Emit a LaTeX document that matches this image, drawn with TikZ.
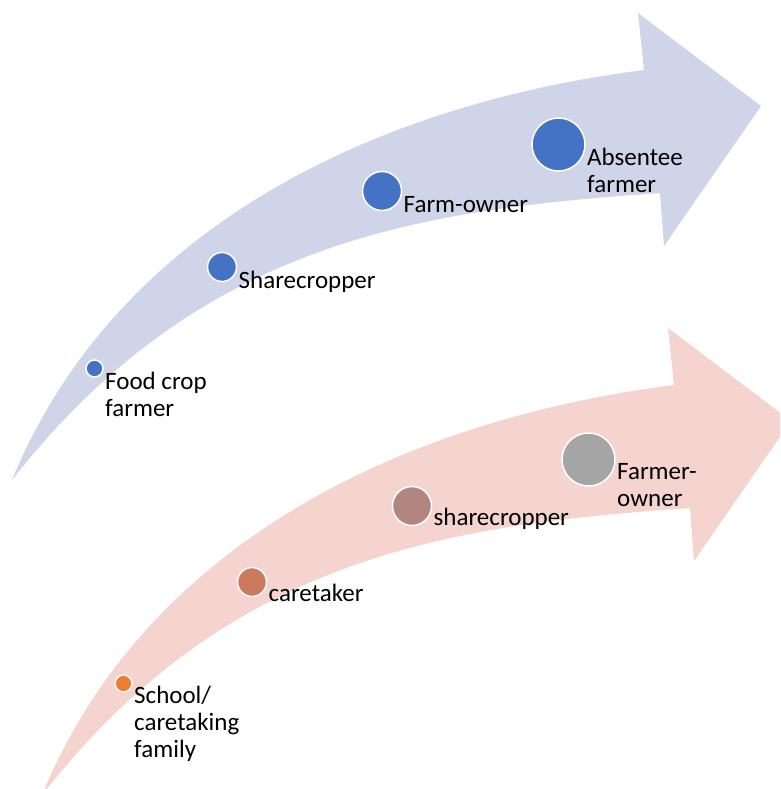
\documentclass[tikz,border=0pt]{standalone}
\usepackage{fontspec}
\setmainfont{Carlito}
\usetikzlibrary{positioning}
\definecolor{bandblue}{HTML}{CFD4E8}
\definecolor{bandpink}{HTML}{F5D3CF}
\definecolor{dotblue}{HTML}{4472C4}
\definecolor{dotorange}{HTML}{ED7D31}
\definecolor{dotrust}{HTML}{CC7A5E}
\definecolor{dotmauve}{HTML}{B2867F}
\definecolor{dotgrey}{HTML}{A5A5A5}

\begin{document}
\begin{tikzpicture}[x=1pt, y=-1pt,
    dot/.style = {circle, draw=white, line width=1.5pt, inner sep=0pt, outer sep=0pt},
    lbl/.style = {font=\fontsize{25}{27}\selectfont, align=left, inner sep=0pt, anchor=base west}]
    \useasboundingbox (0,0) rectangle (780,789);
    \clip (0,0) rectangle (780,789);
    % the two curved arrows
    \foreach \dx/\dy/\col in {0/0/bandblue, 30/315/bandpink}
        \fill[\col, shift={(\dx,\dy)}] (12,480) .. controls (115,230) and (370,105) .. (644,70)
            -- (638,13) -- (761,106) -- (664,246) -- (660,193)
            .. controls (420,210) and (200,240) .. (12,480) -- cycle;
    % upper path
    \node[dot, fill=dotblue, minimum size=17pt] (c1) at (94.5,368.5) {};
    \node[dot, fill=dotblue, minimum size=29pt] (c2) at (222,267) {};
    \node[dot, fill=dotblue, minimum size=39pt] (c3) at (382,191) {};
    \node[dot, fill=dotblue, minimum size=53pt] (c4) at (558.5,144.5) {};
    \node[lbl] (l1) at ([shift={(2,48)}]c1.east) {Food crop\\farmer};
    \node[lbl] (l2) at ([shift={(2,21)}]c2.east) {Sharecropper};
    \node[lbl] (l3) at ([shift={(2,21)}]c3.east) {Farm-owner};
    \node[lbl] (l4) at ([shift={(2,48)}]c4.east) {Absentee\\farmer};
    % lower path
    \node[dot, fill=dotorange, minimum size=17pt] (d1) at (123.5,683.5) {};
    \node[dot, fill=dotrust, minimum size=29pt] (d2) at (252,582) {};
    \node[dot, fill=dotmauve, minimum size=39pt] (d3) at (412,506) {};
    \node[dot, fill=dotgrey, minimum size=53pt] (d4) at (588.5,459.5) {};
    \node[lbl] (m1) at ([shift={(2,74)}]d1.east) {School/\\caretaking\\family};
    \node[lbl] (m2) at ([shift={(2,19)}]d2.east) {caretaker};
    \node[lbl] (m3) at ([shift={(2,19)}]d3.east) {sharecropper};
    \node[lbl] (m4) at ([shift={(2,47)}]d4.east) {Farmer-\\owner};
\end{tikzpicture}
\end{document}
